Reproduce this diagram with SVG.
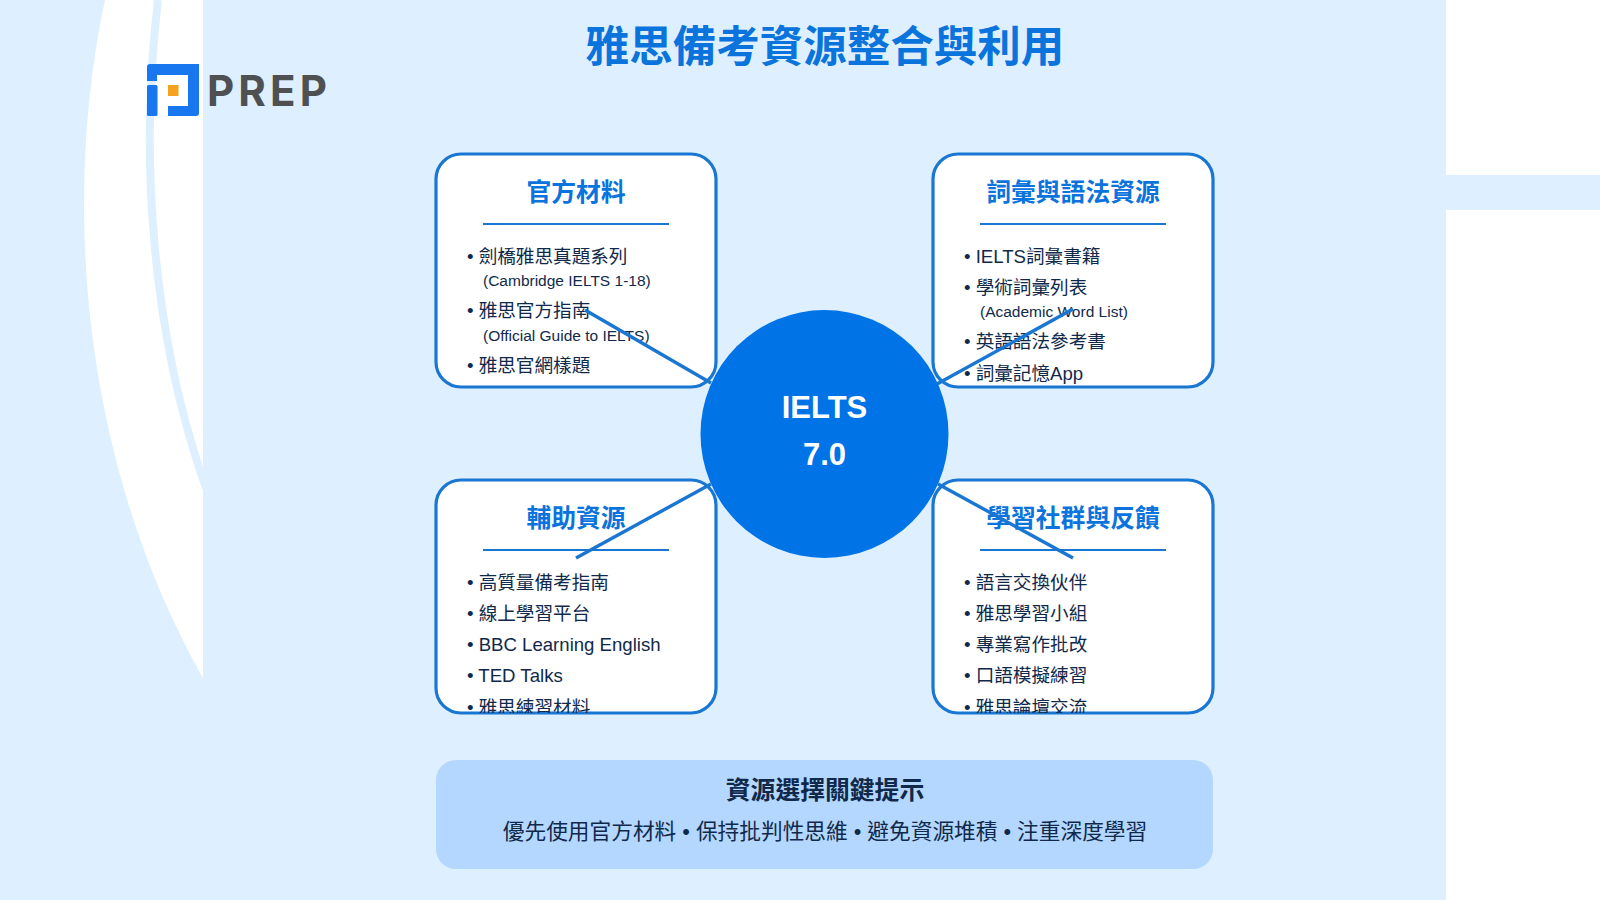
<svg xmlns="http://www.w3.org/2000/svg" width="1600" height="900" viewBox="0 0 1600 900">
<style>
text{font-family:"Liberation Sans","Noto Sans CJK TC",sans-serif}
.box{fill:#fff;stroke:#1976d2;stroke-width:3.200}
.head{font-size:24.800px;font-weight:700;fill:#0a73dc;text-anchor:middle}
.div{stroke:#1976d2;stroke-width:2}
.it{font-size:18.600px;fill:#10294a}
.sub{font-size:15.500px;fill:#10294a}
.con{stroke:#1976d2;stroke-width:3.400}
</style>
<defs>
<clipPath id="cl"><rect x="0" y="0" width="203" height="900"/></clipPath>
<clipPath id="c3"><rect x="436" y="480" width="280" height="233" rx="25"/></clipPath>
<clipPath id="c4"><rect x="933" y="480" width="280" height="233" rx="25"/></clipPath>
</defs>
<rect width="1600" height="900" fill="#deF0ff"/>
<g id="decor">
<g clip-path="url(#cl)">
<path d="M105,0 C60,210 85,470 203,678 L300,678 L300,0 Z" fill="#fff"/>
<path d="M158,0 C140,150 150,330 206,488" fill="none" stroke="#deF0ff" stroke-width="8"/>
</g>
<rect x="1446" y="0" width="154" height="175" fill="#fff"/>
<rect x="1446" y="210" width="154" height="690" fill="#fff"/>
</g>
<g id="logo">
<path d="M150,64H199V113Q199,116 196,116H168V106H188V75H157V81H147V67Q147,64 150,64Z" fill="#1877ee"/>
<rect x="147" y="85" width="10.500" height="31" rx="1.500" fill="#1877ee"/>
<rect x="168" y="85" width="10.500" height="11" fill="#f5a31e"/>
<text x="207" y="106" font-size="42" font-weight="700" fill="#4f5052" textLength="120" lengthAdjust="spacing" style="font-family:Inter,'Liberation Sans',sans-serif">PREP</text>
</g>
<text id="title" x="825" y="61.500" font-size="43.500" font-weight="700" fill="#0a73dc" text-anchor="middle">雅思備考資源整合與利用</text>
<g id="n1">
<rect class="box" x="436" y="154" width="280" height="233" rx="25"/>
<text class="head" x="576" y="201">官方材料</text>
<line class="div" x1="483" y1="224" x2="669" y2="224"/>
<text class="it" x="467" y="263">• 劍橋雅思真題系列</text>
<text class="sub" x="483" y="286">(Cambridge IELTS 1-18)</text>
<text class="it" x="467" y="317">• 雅思官方指南</text>
<text class="sub" x="483" y="340.500">(Official Guide to IELTS)</text>
<text class="it" x="467" y="372">• 雅思官網樣題</text>
</g>
<g id="n2">
<rect class="box" x="933" y="154" width="280" height="233" rx="25"/>
<text class="head" x="1073" y="201">詞彙與語法資源</text>
<line class="div" x1="980" y1="224" x2="1166" y2="224"/>
<text class="it" x="964" y="263">• IELTS詞彙書籍</text>
<text class="it" x="964" y="294">• 學術詞彙列表</text>
<text class="sub" x="980" y="317">(Academic Word List)</text>
<text class="it" x="964" y="348">• 英語語法參考書</text>
<text class="it" x="964" y="380">• 詞彙記憶App</text>
</g>
<g id="n3">
<rect class="box" x="436" y="480" width="280" height="233" rx="25"/>
<text class="head" x="576" y="527">輔助資源</text>
<line class="div" x1="483" y1="550" x2="669" y2="550"/>
<g clip-path="url(#c3)">
<text class="it" x="467" y="589">• 高質量備考指南</text>
<text class="it" x="467" y="620">• 線上學習平台</text>
<text class="it" x="467" y="651">• BBC Learning English</text>
<text class="it" x="467" y="682">• TED Talks</text>
<text class="it" x="467" y="713.500">• 雅思練習材料</text>
</g>
</g>
<g id="n4">
<rect class="box" x="933" y="480" width="280" height="233" rx="25"/>
<text class="head" x="1073" y="527">學習社群與反饋</text>
<line class="div" x1="980" y1="550" x2="1166" y2="550"/>
<g clip-path="url(#c4)">
<text class="it" x="964" y="589">• 語言交換伙伴</text>
<text class="it" x="964" y="620">• 雅思學習小組</text>
<text class="it" x="964" y="651">• 專業寫作批改</text>
<text class="it" x="964" y="682">• 口語模擬練習</text>
<text class="it" x="964" y="713.500">• 雅思論壇交流</text>
</g>
</g>
<g id="connectors">
<line class="con" x1="585" y1="310" x2="711" y2="383"/>
<line class="con" x1="1073" y1="309" x2="937" y2="384"/>
<line class="con" x1="576" y1="558" x2="711" y2="484"/>
<line class="con" x1="1073" y1="558" x2="938" y2="484"/>
</g>
<g id="center">
<circle cx="824.500" cy="434" r="124" fill="#0073e6"/>
<text x="824.500" y="418" font-size="31" font-weight="700" fill="#fff" text-anchor="middle">IELTS</text>
<text x="824.500" y="465" font-size="31" font-weight="700" fill="#fff" text-anchor="middle">7.0</text>
</g>
<g id="tip">
<rect x="436" y="760" width="777" height="109" rx="20" fill="#b3d7ff"/>
<text x="825" y="799" font-size="24.800" font-weight="700" fill="#10294a" text-anchor="middle">資源選擇關鍵提示</text>
<text x="825" y="838.500" font-size="21.700" fill="#10294a" text-anchor="middle">優先使用官方材料 • 保持批判性思維 • 避免資源堆積 • 注重深度學習</text>
</g>
</svg>
